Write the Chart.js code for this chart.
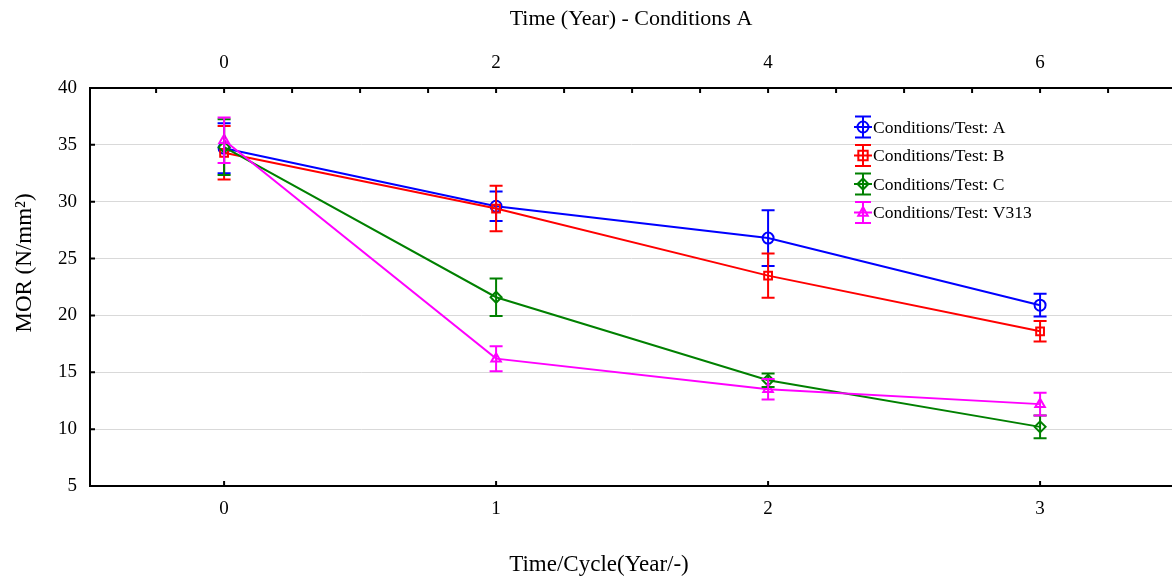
<!DOCTYPE html>
<html>
<head>
<meta charset="utf-8">
<script src="https://cdn.jsdelivr.net/npm/chart.js@4"></script>
<style>
  html, body { margin: 0; padding: 0; background: #fff; overflow: hidden; }
  #wrap { width: 1172px; height: 576px; position: relative; }
</style>
</head>
<body>
<div id="wrap"><canvas id="morChart"></canvas></div>
<script>
// MOR vs time/cycle, four test conditions with error bars
const cycles = [0, 1, 2, 3];
const yearTickLabels = ['0', '2', '4', '6'];
const seriesLabels = ['Conditions/Test: A', 'Conditions/Test: B', 'Conditions/Test: C', 'Conditions/Test: V313'];
const seriesColors = ['#0000ff', '#ff0000', '#008000', '#ff00ff'];
const seriesMarkers = ['circle', 'rect', 'rectRot', 'triangle'];

const morA = [34.7, 29.6, 26.8, 20.9];
const errA = [2.2, 1.3, 2.45, 1.0];
const morB = [34.3, 29.4, 23.5, 18.6];
const errB = [2.35, 2.0, 1.95, 0.9];
const morC = [34.8, 21.6, 14.3, 10.2];
const errC = [2.45, 1.65, 0.6, 1.0];
const morV = [35.4, 16.2, 13.5, 12.2];
const errV = [2.0, 1.1, 0.9, 1.0];

const seriesValues = [morA, morB, morC, morV];
const seriesErrors = [errA, errB, errC, errV];

const xTitle = 'Time/Cycle(Year/-)';
const yTitle = 'MOR (N/mm²)';

const serif = "'Liberation Serif', 'Times New Roman', serif";

const datasets = seriesValues.map((vals, i) => ({
  label: seriesLabels[i],
  data: vals.map((v, j) => ({ x: cycles[j], y: v })),
  borderColor: seriesColors[i],
  backgroundColor: 'rgba(0,0,0,0)',
  borderWidth: 2,
  pointStyle: seriesMarkers[i],
  pointRadius: 5.5,
  pointBorderWidth: 2,
  pointBackgroundColor: 'rgba(0,0,0,0)',
  pointBorderColor: seriesColors[i],
  tension: 0,
  order: seriesValues.length - i
}));

function drawMarker(ctx, style, x, y, r) {
  ctx.beginPath();
  if (style === 'circle') {
    ctx.arc(x, y, r, 0, Math.PI * 2);
  } else if (style === 'rect') {
    const s = r * 0.85;
    ctx.rect(x - s, y - s, s * 2, s * 2);
  } else if (style === 'rectRot') {
    ctx.moveTo(x, y - r); ctx.lineTo(x + r, y); ctx.lineTo(x, y + r); ctx.lineTo(x - r, y); ctx.closePath();
  } else {
    ctx.moveTo(x, y - r); ctx.lineTo(x + r * 0.87, y + r * 0.6); ctx.lineTo(x - r * 0.87, y + r * 0.6); ctx.closePath();
  }
  ctx.stroke();
}

// error bars, inward tick marks, axis titles and the in-plot legend
const extrasPlugin = {
  id: 'extras',
  afterDatasetsDraw(chart) {
    const ctx = chart.ctx;
    const xs = chart.scales.x, ys = chart.scales.y;
    ctx.save();
    ctx.lineWidth = 2;
    for (let i = 0; i < seriesValues.length; i++) {
      ctx.strokeStyle = seriesColors[i];
      seriesValues[i].forEach((v, j) => {
        const x = xs.getPixelForValue(cycles[j]);
        const y1 = ys.getPixelForValue(v + seriesErrors[i][j]);
        const y2 = ys.getPixelForValue(v - seriesErrors[i][j]);
        ctx.beginPath();
        ctx.moveTo(x, y1); ctx.lineTo(x, y2);
        ctx.moveTo(x - 6.5, y1); ctx.lineTo(x + 6.5, y1);
        ctx.moveTo(x - 6.5, y2); ctx.lineTo(x + 6.5, y2);
        ctx.stroke();
      });
    }
    ctx.restore();
  },
  afterDraw(chart) {
    const ctx = chart.ctx;
    const area = chart.chartArea;
    const xs = chart.scales.x, x2 = chart.scales.x2, ys = chart.scales.y;
    ctx.save();
    ctx.strokeStyle = '#000';
    ctx.lineWidth = 2;
    ctx.beginPath();
    xs.ticks.forEach(t => { const p = xs.getPixelForValue(t.value); ctx.moveTo(p, area.bottom); ctx.lineTo(p, area.bottom - 5); });
    x2.ticks.forEach(t => { const p = x2.getPixelForValue(t.value); ctx.moveTo(p, area.top); ctx.lineTo(p, area.top + 5); });
    ys.ticks.forEach(t => { const p = ys.getPixelForValue(t.value); ctx.moveTo(area.left, p); ctx.lineTo(area.left + 5, p); });
    ctx.stroke();

    // axis titles (the reference has them off-centre)
    ctx.fillStyle = '#000';
    ctx.textAlign = 'center';
    ctx.textBaseline = 'middle';
    ctx.font = '23px ' + serif;
    ctx.fillText(xTitle, 599, 565);
    ctx.save();
    ctx.translate(25, 263);
    ctx.rotate(-Math.PI / 2);
    ctx.font = '23px ' + serif;
    ctx.fillText(yTitle, 0, 0);
    ctx.restore();

    // legend
    const lx = 863, ly = 127, step = 28.5;
    ctx.font = '17.5px ' + serif;
    ctx.textBaseline = 'middle';
    ctx.textAlign = 'left';
    seriesLabels.forEach((lab, i) => {
      const y = ly + i * step;
      ctx.strokeStyle = seriesColors[i];
      ctx.lineWidth = 2;
      ctx.beginPath();
      ctx.moveTo(lx, y - 10.5); ctx.lineTo(lx, y + 10.5);
      ctx.moveTo(lx - 8, y - 10.5); ctx.lineTo(lx + 8, y - 10.5);
      ctx.moveTo(lx - 8, y + 10.5); ctx.lineTo(lx + 8, y + 10.5);
      ctx.moveTo(lx - 9, y); ctx.lineTo(lx + 9, y);
      ctx.stroke();
      drawMarker(ctx, seriesMarkers[i], lx, y, 5.5);
      ctx.fillStyle = '#000';
      ctx.fillText(lab, lx + 10, y + 1);
    });
    ctx.restore();
  }
};

new Chart(document.getElementById('morChart'), {
  type: 'line',
  data: { datasets: datasets },
  options: {
    responsive: true,
    maintainAspectRatio: false,
    animation: false,
    layout: { padding: 0, autoPadding: false },
    plugins: { legend: { display: false }, tooltip: { enabled: false } },
    scales: {
      x: {
        type: 'linear',
        position: 'bottom',
        min: -0.493,
        max: 3.485,
        afterFit(s) { s.height = 90; },
        ticks: { stepSize: 1, includeBounds: false, padding: 12, color: '#000', font: { family: serif, size: 19 } },
        grid: { drawOnChartArea: false, drawTicks: false },
        border: { color: '#000', width: 2 }
      },
      x2: {
        type: 'linear',
        position: 'top',
        min: -0.986,
        max: 6.97,
        afterFit(s) { s.height = 88; },
        ticks: {
          stepSize: 0.5, includeBounds: false, autoSkip: false, padding: 14, color: '#000',
          font: { family: serif, size: 19 },
          callback: v => (v >= 0 && v % 2 === 0) ? yearTickLabels[v / 2] : ''
        },
        grid: { drawOnChartArea: false, drawTicks: false },
        border: { color: '#000', width: 2 },
        title: { display: true, text: 'Time (Year) - Conditions A', color: '#000', padding: { top: 6, bottom: 0 }, font: { family: serif, size: 22 } }
      },
      y: {
        min: 5,
        max: 40,
        afterFit(s) { s.width = 90; },
        ticks: { stepSize: 5, padding: 13, color: '#000', font: { family: serif, size: 19 } },
        grid: { color: '#d9d9d9', lineWidth: 1, drawTicks: false },
        border: { color: '#000', width: 2 }
      }
    }
  },
  plugins: [extrasPlugin]
});
</script>
</body>
</html>
